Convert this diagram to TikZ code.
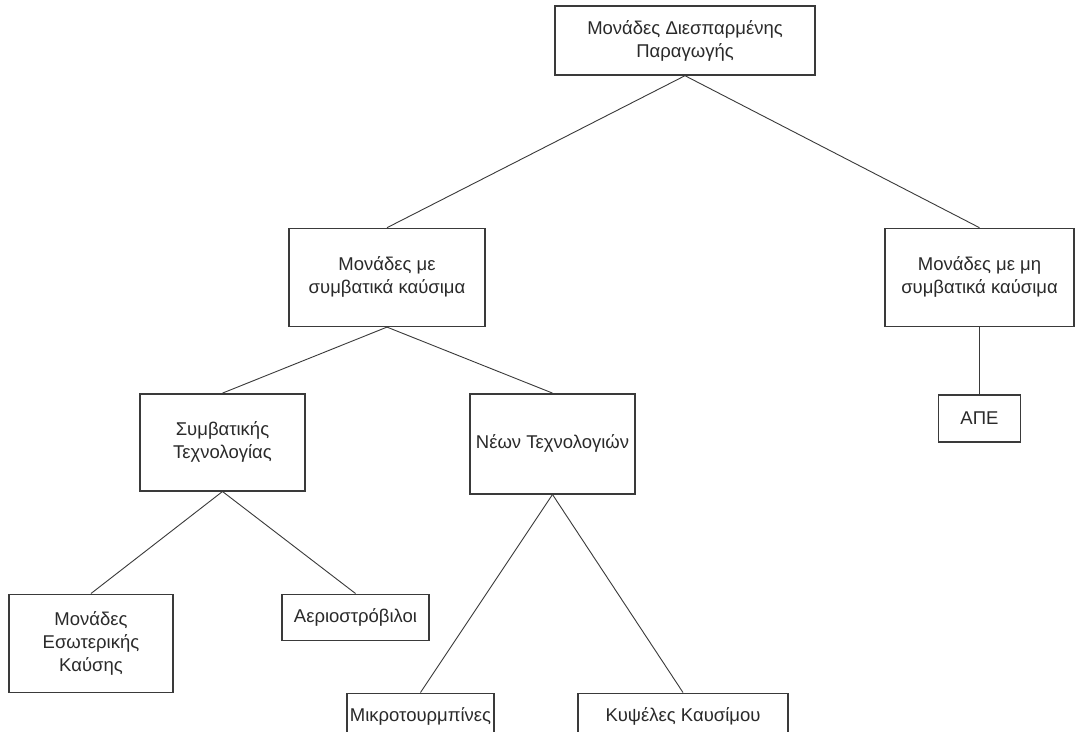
\documentclass[tikz,border=0pt]{standalone}
\usepackage{fontspec}
\setmainfont{Liberation Sans}
\usepackage{tikz}
\usetikzlibrary{positioning}

\definecolor{boxline}{HTML}{3A3A3A}
\definecolor{boxtext}{HTML}{2A2A2A}

\begin{document}
\begin{tikzpicture}[x=1pt, y=1pt,
    box/.style={rectangle, draw=boxline, line width=1.4pt, text=boxtext, align=center,
                inner sep=1pt, font=\fontsize{18.5}{23}\selectfont},
    link/.style={draw=boxline, line width=0.9pt}]
        \path[use as bounding box, clip] (0,0) rectangle (1075,-731);
        \fill[white] (0,0) rectangle (1075,-731);
        % top of the tree
        \node[box, minimum width=260pt, minimum height=69pt] (dg) at (685,-40.5) {Μονάδες Διεσπαρμένης\\Παραγωγής};
        \node[box, minimum width=196pt, minimum height=98pt] (conv) [below = 152pt of dg, xshift=-298pt] {Μονάδες με\\συμβατικά καύσιμα};
        \node[box, minimum width=189pt, minimum height=98pt] (nonconv) [below = 152pt of dg, xshift=294.5pt] {Μονάδες με μη\\συμβατικά καύσιμα};
        \node[box, minimum width=82pt, minimum height=47pt] (ape) [below = 67pt of nonconv] {ΑΠΕ};
        
        \node[box, minimum width=165pt, minimum height=97pt] (convtech) [below = 66pt of conv, xshift=-164.5pt] {Συμβατικής\\Τεχνολογίας};
        \node[box, minimum width=165pt, minimum height=100pt] (newtech) [below = 66pt of conv, xshift=165.5pt] {Νέων Τεχνολογιών};
        
        \node[box, minimum width=164pt, minimum height=98pt] (ice) [below = 102pt of convtech, xshift=-131.5pt] {Μονάδες\\Εσωτερικής\\Καύσης};
        \node[box, minimum width=147pt, minimum height=46pt] (gas) [below = 102pt of convtech, xshift=133pt] {Αεριοστρόβιλοι};
        \node[box, minimum width=147pt, minimum height=46pt] (micro) [below = 198pt of newtech, xshift=-132pt] {Μικροτουρμπίνες};
        \node[box, minimum width=210pt, minimum height=46pt] (fuel) [below = 198pt of newtech, xshift=130.5pt] {Κυψέλες Καυσίμου};
        
        \path  (dg.south) edge [link] (conv.north);
        \path  (dg.south) edge [link] (nonconv.north);
        \path  (nonconv.south) edge [link] (ape.north);
        \path  (conv.south) edge [link] (convtech.north);
        \path  (conv.south) edge [link] (newtech.north);
        \path  (convtech.south) edge [link] (ice.north);
        \path  (convtech.south) edge [link] (gas.north);
        \path  (newtech.south) edge [link] (micro.north);
        \path  (newtech.south) edge [link] (fuel.north);
    \end{tikzpicture}
\end{document}
